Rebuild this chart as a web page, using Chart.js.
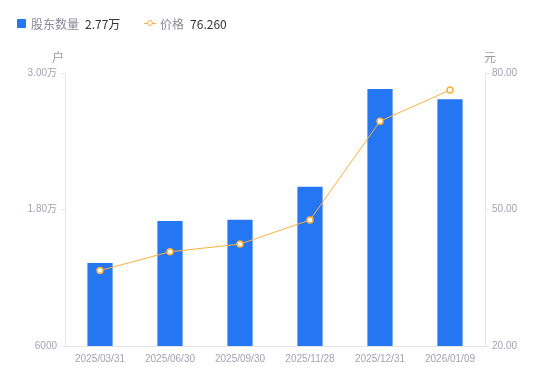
<!DOCTYPE html>
<html><head><meta charset="utf-8">
<script src="https://cdn.jsdelivr.net/npm/chart.js@4/dist/chart.umd.min.js"></script>
<style>
html,body{margin:0;padding:0;background:#fff;}
#wrap{position:relative;width:550px;height:381px;}
#legend{position:absolute;left:17px;top:13px;font-family:"Noto Sans CJK SC","Liberation Sans",sans-serif;font-size:12px;line-height:18px;white-space:nowrap;}
#legend span{display:inline-block;vertical-align:middle;}
.lbl{color:#8a8a99;}
.val{color:#333;margin-left:6px;}
</style></head>
<body><div id="wrap"><canvas id="c" width="550" height="381"></canvas>
<div id="legend">
<span style="width:9px;height:9px;background:#2476F3;border-radius:1px;margin-right:5px;"></span><span class="lbl">股东数量</span><span class="val" id="v1"></span>
<span style="position:relative;width:12px;height:9px;margin-left:21px;margin-right:4px;"><span style="position:absolute;left:0;top:4px;width:12px;height:1px;background:#FBB03B;"></span><span style="position:absolute;left:3px;top:1px;width:4px;height:4px;border:1.5px solid #FBB03B;border-radius:50%;background:#fff;"></span></span><span class="lbl">价格</span><span class="val" id="v2"></span>
</div></div>
<script>
const categories = ['2025/03/31','2025/06/30','2025/09/30','2025/11/28','2025/12/31','2026/01/09'];
const holders = [13300, 17000, 17100, 20000, 28600, 27700];
const prices = [36.6, 40.7, 42.4, 47.7, 69.4, 76.26];
const leftTicks = [6000, 18000, 30000];
const rightTicks = [20, 50, 80];
const legendHolders = '2.77万';
const legendPrice = '76.260';
document.getElementById('v1').textContent = legendHolders;
document.getElementById('v2').textContent = legendPrice;

const font = {family: '"Liberation Sans","Noto Sans CJK SC",sans-serif', size: 10};
const tickColor = '#a3a3b3';
const lineColor = '#e6e6ea';

const axisTitles = {
  id: 'axisTitles',
  afterDraw(chart) {
    const ctx = chart.ctx;
    ctx.save();
    ctx.font = '12px "Noto Sans CJK SC",sans-serif';
    ctx.fillStyle = '#9a9aa8';
    ctx.textBaseline = 'middle';
    ctx.textAlign = 'center';
    ctx.fillText('户', chart.scales.y.right - 7, chart.chartArea.top - 16);
    ctx.fillText('元', chart.scales.y1.left + 5, chart.chartArea.top - 16);
    ctx.restore();
  }
};

new Chart(document.getElementById('c'), {
  data: {
    labels: categories,
    datasets: [
      {type: 'line', label: '价格', data: prices, yAxisID: 'y1', borderColor: '#FBB03B', borderWidth: 1,
       pointRadius: 3, pointBorderWidth: 1.5, pointBackgroundColor: '#fff', pointBorderColor: '#FBB03B', order: 0, tension: 0},
      {type: 'bar', label: '股东数量', data: holders, yAxisID: 'y', backgroundColor: '#2476F3',
       categoryPercentage: 1, barPercentage: 0.36, order: 1}
    ]
  },
  options: {
    responsive: false, animation: false,
    layout: {padding: {top: 73, bottom: 0, left: 0, right: 0}},
    plugins: {legend: {display: false}, tooltip: {enabled: false}},
    scales: {
      x: {
        grid: {display: false, drawTicks: false}, border: {color: lineColor},
        ticks: {color: tickColor, font: font, padding: 7, maxRotation: 0},
        afterFit(s) { s.height = 35; }
      },
      y: {
        position: 'left', min: 6000, max: 30000,
        afterBuildTicks(s) { s.ticks = leftTicks.map(v => ({value: v})); },
        grid: {drawOnChartArea: false, tickLength: 4, color: lineColor}, border: {color: lineColor},
        ticks: {color: tickColor, font: font, padding: 4,
          callback: v => v >= 10000 ? (v / 10000).toFixed(2) + '万' : String(v)},
        afterFit(s) { s.width = 65; }
      },
      y1: {
        position: 'right', min: 20, max: 80,
        afterBuildTicks(s) { s.ticks = rightTicks.map(v => ({value: v})); },
        grid: {drawOnChartArea: false, tickLength: 4, color: lineColor}, border: {color: lineColor},
        ticks: {color: tickColor, font: font, padding: 3, callback: v => Number(v).toFixed(2)},
        afterFit(s) { s.width = 65; }
      }
    }
  },
  plugins: [axisTitles]
});
</script></body></html>
